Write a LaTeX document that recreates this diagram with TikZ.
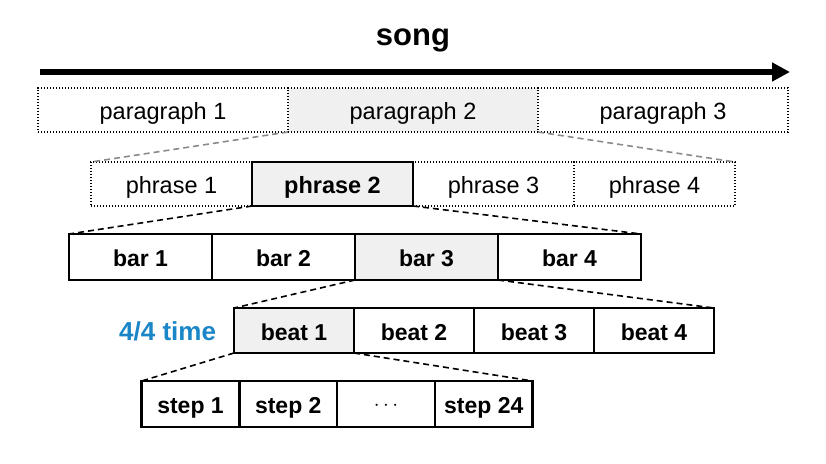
\documentclass[tikz,border=0pt]{standalone}
\usepackage{fontspec}
\setmainfont{Liberation Sans}
\usetikzlibrary{positioning,arrows.meta}
\definecolor{lightbox}{HTML}{F0F0F0}
\definecolor{timeblue}{HTML}{1A86C8}
\definecolor{linkgray}{HTML}{8A8A8A}

\begin{document}
\begin{tikzpicture}[x=1pt,y=-1pt,
                every node/.style = {inner sep=0pt, outer sep=0pt, text height=19pt, text depth=0pt},
                dotbox/.style = {draw, line width=1.4pt, dash pattern=on 1.4pt off 1.6pt,
                                 minimum height=44pt, font=\fontsize{23.5}{26}\selectfont},
                solidbox/.style = {draw, line width=2.3pt, minimum height=46pt,
                                   font=\fontsize{23}{26}\selectfont\bfseries},
                parabox/.style = {dotbox, minimum width=250pt},
                phrasebox/.style = {dotbox, minimum width=161pt},
                barbox/.style = {solidbox, minimum width=143pt},
                beatbox/.style = {solidbox, minimum width=120pt, minimum height=45pt},
                stepbox/.style = {solidbox, minimum width=97.75pt},
                hl/.style = {fill=lightbox},
                zoomline/.style = {line width=1.6pt, dash pattern=on 6pt off 4pt}
                ]
    \useasboundingbox (0,0) rectangle (826,463);

    % title and time axis
    \node[anchor=base, font=\fontsize{31}{36}\selectfont\bfseries] (song) at (413,45) {song};
    \coordinate (axisL) at (40,72);
    \coordinate (axisR) at (790,72);
    \draw[line width=6pt, -{Triangle[length=18pt,width=18pt]}] (axisL) -- (axisR);

    % paragraphs
    \node[parabox] (para1) at (163,110) {paragraph 1};
    \node[parabox, hl, right=0pt of para1] (para2) {paragraph 2};
    \node[parabox, right=0pt of para2] (para3) {paragraph 3};

    % phrases
    \node[phrasebox] (phr1) at (171.5,184) {phrase 1};
    \node[phrasebox, hl, draw, solid, line width=2.8pt, font=\fontsize{23.5}{26}\selectfont\bfseries,
          right=0pt of phr1] (phr2) {phrase 2};
    \node[phrasebox, right=0pt of phr2] (phr3) {phrase 3};
    \node[phrasebox, right=0pt of phr3] (phr4) {phrase 4};

    % bars
    \node[barbox] (bar1) at (140.5,257) {bar 1};
    \node[barbox, right=0pt of bar1] (bar2) {bar 2};
    \node[barbox, hl, right=0pt of bar2] (bar3) {bar 3};
    \node[barbox, right=0pt of bar3] (bar4) {bar 4};

    % beats
    \node[beatbox, hl] (beat1) at (294,330.5) {beat 1};
    \node[beatbox, right=0pt of beat1] (beat2) {beat 2};
    \node[beatbox, right=0pt of beat2] (beat3) {beat 3};
    \node[beatbox, right=0pt of beat3] (beat4) {beat 4};
    \node[left=18pt of beat1, text=timeblue, font=\fontsize{26}{30}\selectfont\bfseries] (meter) {4/4 time};

    % steps
    \node[stepbox] (step1) at (190.5,404) {step 1};
    \node[stepbox, right=0pt of step1] (step2) {step 2};
    \node[stepbox, font=\fontsize{20}{24}\selectfont, text height=13pt, right=0pt of step2] (step3) {$\cdots$};
    \node[stepbox, right=0pt of step3] (step4) {step 24};

    % zoom lines
    \draw[zoomline, linkgray] (para2.south west) -- (phr1.north west);
    \draw[zoomline, linkgray] (para2.south east) -- (phr4.north east);
    \draw[zoomline] (phr2.south west) -- (bar1.north west);
    \draw[zoomline] (phr2.south east) -- (bar4.north east);
    \draw[zoomline] (bar3.south west) -- (beat1.north west);
    \draw[zoomline] (bar3.south east) -- (beat4.north east);
    \draw[zoomline] (beat1.south west) -- (step1.north west);
    \draw[zoomline] (beat1.south east) -- (step4.north east);
\end{tikzpicture}
\end{document}
